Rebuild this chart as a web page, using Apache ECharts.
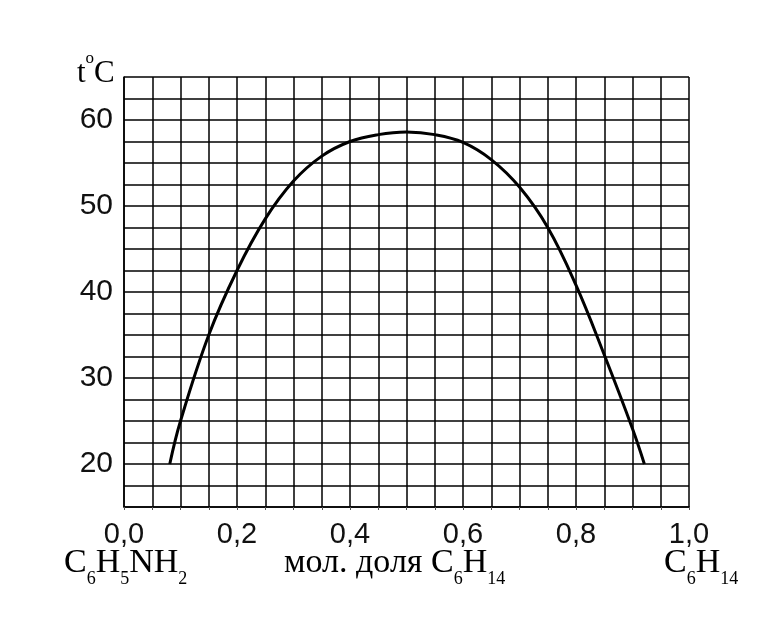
<!DOCTYPE html>
<html>
<head>
<meta charset="utf-8">
<title>t-x diagram</title>
<script src="https://cdn.jsdelivr.net/npm/echarts@6.0.0/dist/echarts.min.js"></script>
<style>
body{margin:0;background:#fff;}
#main{width:784px;height:638px;}
</style>
</head>
<body>
<div id="main"></div>
<script>
// mole fraction of C6H14
var molFrac = [0.081,0.100,0.150,0.200,0.250,0.300,0.350,0.400,0.450,0.500,
               0.550,0.600,0.650,0.700,0.750,0.800,0.850,0.900,0.921];
// temperature, C
var temp    = [20,25,35,42.5,48.5,52.9,55.8,57.5,58.3,58.6,
               58.3,57.4,55.4,52.2,47.5,40.8,32.7,24.1,20];
var yLabels = [20,30,40,50,60];
var xLabels = ['0,0','0,2','0,4','0,6','0,8','1,0'];

var curve = [];
for (var i = 0; i < molFrac.length; i++) {
	curve.push([molFrac[i], temp[i]]);
}

var myChart = echarts.init(document.getElementById('main'));

var serifMain = {fontFamily:'Liberation Serif', fontSize:34, color:'#000', lineHeight:38, verticalAlign:'bottom', padding:[0,0,8,0]};
var serifSub  = {fontFamily:'Liberation Serif', fontSize:18, color:'#000', lineHeight:19, verticalAlign:'bottom'};
var richSub = {m: serifMain, s: serifSub};

var option = {
	animation: false,
	backgroundColor: '#fff',
	grid: {left:124, right:95, top:77, bottom:131, containLabel:false, outerBoundsMode:'none'},
	xAxis: {
		type: 'value',
		min: 0, max: 1, interval: 0.2,
		axisLine: {show:true, onZero:false, lineStyle:{color:'#000', width:1.5}},
		axisTick: {show:true, length:3, lineStyle:{color:'#555'}},
		minorTick: {show:true, splitNumber:4, length:3, lineStyle:{color:'#555'}},
		splitLine: {show:true, lineStyle:{color:'#000', width:1.5}},
		minorSplitLine: {show:true, lineStyle:{color:'#000', width:1.5}},
		axisLabel: {
			margin: 13, fontFamily:'Liberation Sans', fontSize:29, color:'#111',
			showMinLabel:true, showMaxLabel:true,
			formatter: function(v){ return xLabels[Math.round(v/0.2)]; }
		}
	},
	yAxis: {
		type: 'value',
		min: 15, max: 65, interval: 2.5,
		axisLine: {show:true, onZero:false, lineStyle:{color:'#000', width:1.5}},
		axisTick: {show:false},
		splitLine: {show:true, lineStyle:{color:'#000', width:1.5}},
		axisLabel: {
			margin: 11, fontFamily:'Liberation Sans', fontSize:30, color:'#111',
			formatter: function(v){ return yLabels.indexOf(v) >= 0 ? String(v) : ''; }
		}
	},
	graphic: [
		{type:'text', left:77, top:50, style:{
			text:'{m|t}{s|o}{m|C}',
			rich:{
				m:{fontFamily:'Liberation Serif', fontSize:31, color:'#000', lineHeight:34, verticalAlign:'bottom'},
				s:{fontFamily:'Liberation Serif', fontSize:17, color:'#000', lineHeight:18, verticalAlign:'bottom', padding:[0,0,22,0]}
			}
		}},
		{type:'text', left:64, top:546, style:{text:'{m|C}{s|6}{m|H}{s|5}{m|NH}{s|2}', rich:richSub}},
		{type:'text', left:284, top:546, style:{text:'{m|мол. доля C}{s|6}{m|H}{s|14}', rich:richSub}},
		{type:'text', left:664, top:546, style:{text:'{m|C}{s|6}{m|H}{s|14}', rich:richSub}}
	],
	series: [{
		type: 'line',
		data: curve,
		smooth: 0.4,
		showSymbol: false,
		lineStyle: {color:'#000', width:3},
		z: 5
	}]
};

myChart.setOption(option);
</script>
</body>
</html>
